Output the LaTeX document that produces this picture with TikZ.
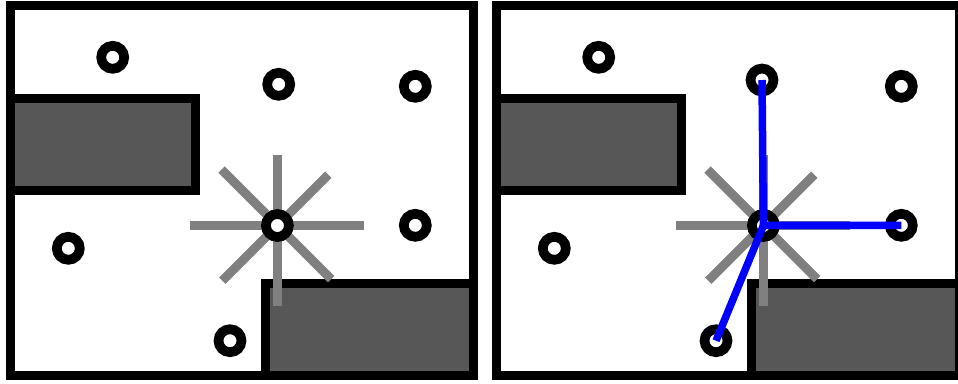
\documentclass[tikz,border=0pt]{standalone}
\usepackage{tikz}
\usetikzlibrary{calc}
\definecolor{wallgray}{RGB}{87,87,87}
\definecolor{raygray}{RGB}{128,128,128}

\begin{document}
\begin{tikzpicture}[x=1pt, y=-1pt,
    wall/.style={draw=black, line width=9pt, fill=wallgray},
    ray/.style={draw=raygray, line width=9pt},
    site/.style={circle, draw, line width=9.7pt, fill=white, minimum size=23pt, inner sep=0pt},
    link/.style={draw=blue, line width=7.5pt}]
    \useasboundingbox (0,0) rectangle (958,383);
    \foreach[count=\i] \pan/\dx/\tx/\ty in {L/0/278.7/84.3, R/486/276/80} {
        \begin{scope}[xshift=\dx pt]
        \draw[line width=9pt] (10.5,5.5) rectangle (473.5,375.5);
        \draw[wall] (10.5,98) rectangle (195.5,190.5);
        \draw[wall] (265,283) rectangle (473.5,375.5);
        \coordinate (c-\pan) at (277.4,225.5);
        \foreach \a/\r in {0/87,45/76,90/80,135/78,180/87,225/79,270/71,315/72}
            \draw[ray] (c-\pan) -- ++(\a:\r);
        \foreach[count=\j] \cx/\cy in {112.7/57.3,\tx/\ty,415.3/86.3,277.4/225.5,415.3/225.3,68.3/248.3,230/340.7} {
            \node[site] (n-\j-\pan) at (\cx,\cy) {};
        }
        \end{scope}
    }
    \draw[link] (n-2-R.center) -- (n-4-R.center) -- (n-5-R.center);
    \draw[link] (n-4-R.center) -- (n-7-R.center);
\end{tikzpicture}
\end{document}
